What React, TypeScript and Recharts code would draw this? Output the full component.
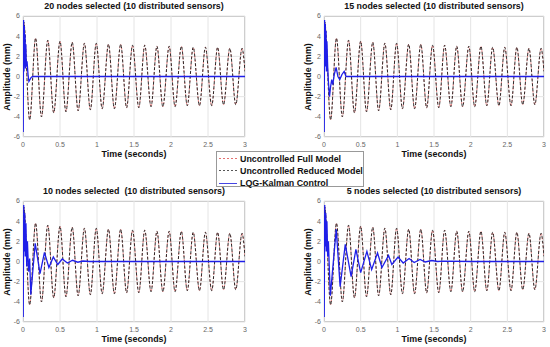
import { LineChart, Line, XAxis, YAxis, CartesianGrid } from 'recharts'

const timeTicks = [0, 0.5, 1, 1.5, 2, 2.5, 3]
const ampTicks = [-6, -4, -2, 0, 2, 4, 6]

// uncontrolled response (peaks and troughs, same in all four panels)
const openT = [
  0, 0.01, 0.09, 0.17, 0.25, 0.335, 0.415, 0.5, 0.58, 0.665, 0.745, 0.83, 0.91, 0.99, 1.07,
  1.155, 1.235, 1.32, 1.4, 1.48, 1.565, 1.645, 1.73, 1.81, 1.89, 1.975, 2.055, 2.14, 2.22,
  2.3, 2.385, 2.465, 2.55, 2.63, 2.71, 2.795, 2.875, 2.96, 3,
]
const openV = [
  0, 5.4, -4.3, 3.8, -4.0, 3.6, -3.6, 3.5, -3.5, 3.4, -3.4, 3.3, -3.3, 3.3, -3.2,
  3.2, -3.2, 3.2, -3.1, 3.1, -3.1, 3.1, -3.0, 3.0, -3.0, 3.0, -3.0, 3.0, -2.9,
  2.9, -2.9, 2.9, -2.9, 2.9, -2.8, 2.8, -2.8, 2.8, 0.5,
]

// LQG-Kalman controlled response, one per panel
const ctrl20T = [0, 0.003, 0.008, 0.013, 0.018, 0.023, 0.028, 0.033, 0.038, 0.045, 0.055, 0.068, 0.08, 0.095, 0.11, 0.13, 1, 2, 3]
const ctrl20V = [0, -5.5, 5.6, 0.5, 5.0, 1.0, 4.2, 0.8, 3.2, 1.0, 1.5, 0.2, -0.5, -0.3, -0.1, 0, 0, 0, 0]

const ctrl15T = [0, 0.003, 0.008, 0.013, 0.018, 0.023, 0.028, 0.033, 0.04, 0.05, 0.06, 0.075, 0.09, 0.105, 0.12, 0.14, 0.165, 0.19, 0.215, 0.245, 0.275, 0.3, 0.33, 1, 2, 3]
const ctrl15V = [0, -5.5, 5.6, 1.5, 5.2, 1.0, 4.5, 0.5, 3.5, 1.0, -0.5, -2.0, -1.0, -0.3, -0.8, 0.2, 0.9, 0.0, -0.3, 0.2, 0.5, 0.0, 0, 0, 0, 0]

const ctrl10T = [0, 0.003, 0.01, 0.017, 0.024, 0.031, 0.04, 0.05, 0.06, 0.075, 0.09, 0.105, 0.165, 0.23, 0.29, 0.35, 0.41, 0.47, 0.53, 0.6, 0.67, 0.74, 0.81, 0.9, 1, 2, 3]
const ctrl10V = [0, -5.5, 5.6, 1.0, 4.8, 0.5, 3.8, -0.5, 2.0, -1.0, 0.3, -3.3, 1.8, -1.2, 0.9, -0.6, 0.45, -0.3, 0.25, -0.15, 0.12, -0.07, 0.05, 0, 0, 0, 0]

const ctrl5T = [0, 0.003, 0.01, 0.017, 0.024, 0.031, 0.04, 0.05, 0.06, 0.086, 0.167, 0.22, 0.29, 0.37, 0.435, 0.5, 0.585, 0.65, 0.73, 0.79, 0.88, 0.925, 1.01, 1.08, 1.16, 1.23, 1.31, 1.38, 1.47, 1.55, 1.63, 2, 2.5, 3]
const ctrl5V = [0, -5.5, 5.6, 1.5, 4.8, 1.0, 4.0, 0.5, 2.0, -3.4, 3.2, -2.5, 1.7, -1.5, 1.2, -1.1, 1.0, -0.8, 0.85, -0.6, 0.6, -0.3, 0.45, -0.15, 0.3, -0.1, 0.2, -0.05, 0.1, 0, 0.03, 0, 0, 0]

const titles = [
  '20 nodes selected (10 distributed sensors)',
  '15 nodes selected (10 distributed sensors)',
  '10 nodes selected  (10 distributed sensors)',
  '5 nodes selected (10 distributed sensors)',
]

const legendNames = ['Uncontrolled Full Model', 'Uncontrolled Reduced Model', 'LQG-Kalman Control']

type Row = { t: number; open?: number; ctrl?: number }

// merge the shared uncontrolled samples with one panel's controlled samples
const buildRows = (ct: number[], cv: number[]) => {
  const rows = new Map<number, Row>()
  openT.forEach((t, i) => rows.set(t, { t, open: openV[i] }))
  ct.forEach((t, i) => rows.set(t, { ...(rows.get(t) ?? { t }), ctrl: cv[i] }))
  return [...rows.values()].sort((a, b) => a.t - b.t)
}

const font = '"Liberation Sans", Arial, sans-serif'
const boldText = { position: 'absolute' as const, fontFamily: font, fontWeight: 700, fontSize: 8.9, color: '#111', whiteSpace: 'pre' as const, lineHeight: 1 }

function Panel({ x0, y0, w, title, rows }: { x0: number; y0: number; w: number; title: string; rows: Row[] }) {
  const h = 121
  return (
    <>
      <div style={{ ...boldText, left: x0 + w / 2, top: y0 - 14, transform: 'translateX(-50%)' }}>{title}</div>
      <div style={{ ...boldText, left: x0 + w / 2, top: y0 + h + 13, transform: 'translateX(-50%)' }}>Time (seconds)</div>
      <div style={{ ...boldText, left: x0 - 16, top: y0 + h / 2, transform: 'translate(-50%, -50%) rotate(-90deg)' }}>Amplitude (mm)</div>
      <div style={{ position: 'absolute', left: x0, top: y0, width: w, height: h, border: '1px solid #b8b8b8', boxSizing: 'border-box' }} />
      <div style={{ position: 'absolute', left: x0 - 24, top: y0 - 16 }}>
        <LineChart data={rows} width={24 + w + 4} height={16 + h + 22} margin={{ top: 16, right: 4, bottom: 2, left: 8 }}>
          <CartesianGrid stroke="#e4e4e4" />
          <XAxis
            type="number"
            dataKey="t"
            domain={[0, 3]}
            ticks={timeTicks}
            allowDataOverflow
            axisLine={false}
            tickLine={false}
            tickSize={3}
            tickMargin={2}
            height={20}
            tick={{ fontSize: 7, fill: '#666', fontFamily: font }}
          />
          <YAxis
            type="number"
            domain={[-6, 6]}
            ticks={ampTicks}
            allowDataOverflow
            axisLine={false}
            tickLine={false}
            tickSize={1}
            tickMargin={2}
            width={16}
            tick={{ fontSize: 7, fill: '#666', fontFamily: font }}
          />
          <Line dataKey="open" connectNulls type="monotone" stroke="#e86a6a" strokeWidth={0.8} strokeDasharray="2 2" dot={false} isAnimationActive={false} />
          <Line dataKey="open" connectNulls type="monotone" stroke="#1a1a1a" strokeWidth={0.9} strokeDasharray="3 1.8" dot={false} isAnimationActive={false} />
          <Line dataKey="ctrl" connectNulls type="linear" stroke="#1f1fe8" strokeWidth={1.3} dot={false} isAnimationActive={false} />
        </LineChart>
      </div>
    </>
  )
}

function LegendBox() {
  const samples = [
    { stroke: '#e06060', dash: '2 2' },
    { stroke: '#444', dash: '2 2' },
    { stroke: '#3030e0', dash: undefined },
  ]
  return (
    <div style={{ position: 'absolute', left: 216, top: 151, width: 148, height: 36, border: '1px solid #999', background: '#fff', boxSizing: 'border-box' }}>
      {legendNames.map((name, i) => (
        <div key={name} style={{ position: 'absolute', left: 1, top: 1 + i * 12.3, height: 11, display: 'flex', alignItems: 'center' }}>
          <svg width={20} height={11}>
            <line x1={1} x2={19} y1={5.5} y2={5.5} stroke={samples[i].stroke} strokeWidth={0.9} strokeDasharray={samples[i].dash} />
          </svg>
          <span style={{ fontFamily: font, fontWeight: 700, fontSize: 8.9, color: '#111', marginLeft: 2, whiteSpace: 'nowrap' }}>{name}</span>
        </div>
      ))}
    </div>
  )
}

export default function App() {
  return (
    <div style={{ position: 'fixed', left: 0, top: 0, width: 550, height: 347, background: '#fff', overflow: 'hidden' }}>
      <Panel x0={23} y0={16} w={222} title={titles[0]} rows={buildRows(ctrl20T, ctrl20V)} />
      <Panel x0={324} y0={16} w={220} title={titles[1]} rows={buildRows(ctrl15T, ctrl15V)} />
      <Panel x0={23} y0={201} w={222} title={titles[2]} rows={buildRows(ctrl10T, ctrl10V)} />
      <Panel x0={324} y0={201} w={220} title={titles[3]} rows={buildRows(ctrl5T, ctrl5V)} />
      <LegendBox />
    </div>
  )
}
